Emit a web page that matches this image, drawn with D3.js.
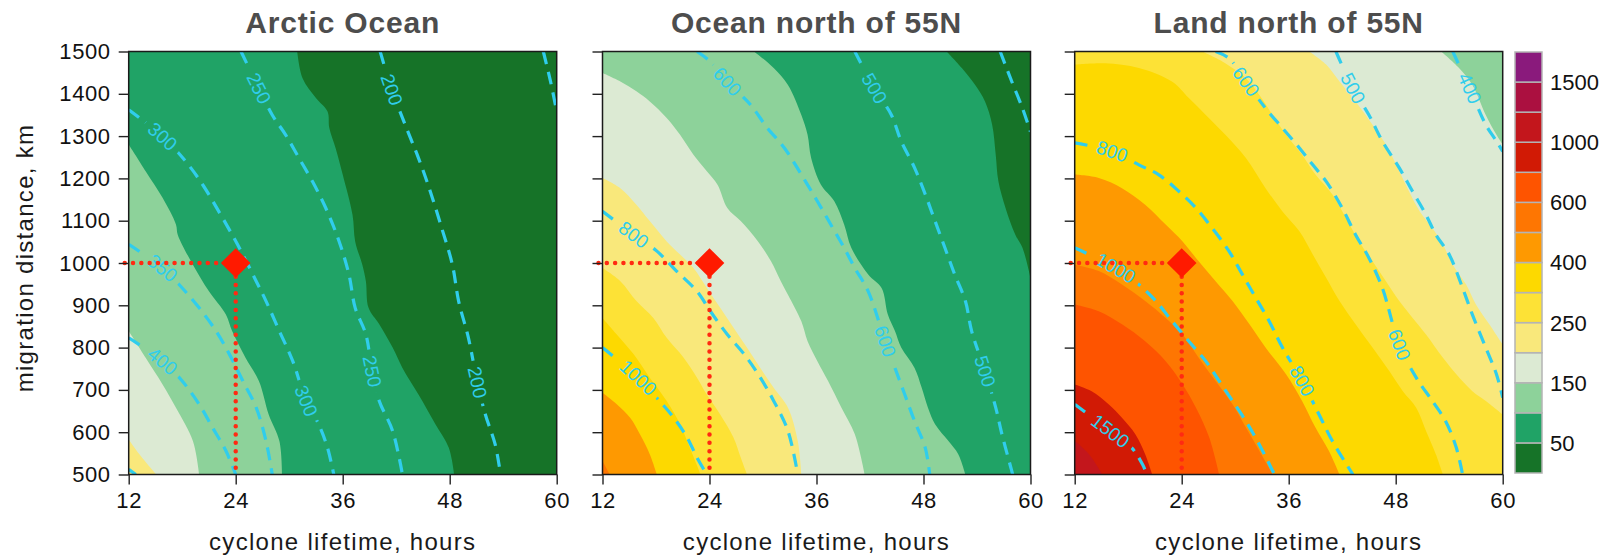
<!DOCTYPE html>
<html>
<head>
<meta charset="utf-8">
<script src="https://cdn.jsdelivr.net/npm/d3@7"></script>
<style>
  body { margin: 0; background: #fff; }
  text { font-family: "Liberation Sans", Arial, Helvetica, sans-serif; }
</style>
</head>
<body>
<svg id="chart"></svg>
<script>
// axis ticks and colour scale
const lifetimeTicks = [12, 24, 36, 48, 60];
const distanceTicks = [500, 600, 700, 800, 900, 1000, 1100, 1200, 1300, 1400, 1500];
const levels = [50, 100, 150, 200, 250, 300, 400, 500, 600, 800, 1000, 1250, 1500];
const levelColors = ["#167328", "#20a366", "#8dd29a", "#dceAd3", "#f9e87b", "#fde236", "#fdd900",
                     "#fe9901", "#fe7602", "#fe5400", "#d11a05", "#c3161c", "#ab1040", "#8a1a7c"];
const levelLabels = [50, 150, 250, 400, 600, 1000, 1500];
const panelTitles = ["Arctic Ocean", "Ocean north of 55N", "Land north of 55N"];
const marker = [24, 1000];

// filled contour boundaries: [lifetime h, distance km], high values lie towards bottom-left
const arcticBands = [
  {level: 50, pts: [[30.9,1500],[31.5,1437],[33.0,1390],[34.3,1358],[34.5,1319],[35.2,1272],[36.0,1209],[37.1,1114],[37.4,1051],[38.2,996],[38.6,957],[38.9,894],[40.1,855],[41.6,800],[42.7,752],[44.5,689],[46.4,619],[47.9,563],[48.5,500]]},
  {level: 100, pts: [[12,1280],[13.9,1217],[15.8,1154],[17.3,1091],[17.5,1067],[19.2,996],[21.0,933],[22.9,878],[23.6,839],[25.1,776],[26.6,721],[27.7,642],[28.9,579],[29.2,500]]},
  {level: 150, pts: [[12,839],[13.9,776],[15.8,713],[17.3,658],[19.2,579],[19.9,500]]},
  {level: 200, pts: [[12,583],[13.2,548],[15.1,500]]}
];
const oceanBands = [
  {level: 50, pts: [[50.6,1500],[52.3,1461],[53.8,1421],[54.9,1382],[55.7,1327],[56.1,1256],[56.4,1193],[57.2,1130],[58.3,1067],[59.1,1036],[60,965]]},
  {level: 100, pts: [[29.0,1500],[31.2,1461],[32.8,1421],[34.3,1350],[35.0,1303],[35.4,1248],[36.5,1185],[38.0,1146],[39.1,1091],[39.9,1036],[41.8,973],[43.3,941],[44.0,878],[44.8,839],[45.5,800],[47.0,752],[47.8,705],[48.5,658],[49.3,619],[50.8,579],[51.9,548],[52.7,500]]},
  {level: 150, pts: [[12,1449],[14.0,1429],[15.8,1406],[17.3,1382],[19.2,1343],[20.7,1303],[22.2,1256],[23.7,1217],[24.9,1185],[26.0,1130],[27.5,1099],[29.4,1052],[30.9,1004],[32.0,957],[32.8,925],[34.3,862],[35.0,815],[36.1,768],[37.3,721],[38.8,658],[40.3,595],[41.4,500]]},
  {level: 200, pts: [[12,1201],[14.0,1177],[15.8,1138],[17.3,1099],[19.2,1051],[20.7,1020],[22.2,988],[23.7,941],[25.2,894],[26.7,847],[28.2,800],[29.7,752],[31.2,705],[32.8,658],[33.9,579],[34.3,500]]},
  {level: 250, pts: [[12,988],[14.0,957],[15.8,910],[17.7,870],[19.2,823],[21.1,776],[22.6,729],[23.7,689],[25.2,642],[26.7,587],[27.5,540],[28.2,500]]},
  {level: 300, pts: [[12,870],[13.6,831],[15.5,784],[17.3,729],[19.2,674],[20.7,619],[21.8,563],[23.0,500]]},
  {level: 400, pts: [[12,693],[13.6,666],[15.1,634],[16.2,595],[17.3,548],[18.1,500]]},
  {level: 500, pts: [[12,532],[12.8,500]]}
];
const landBands = [
  {level: 150, pts: [[53.1,1500],[55.1,1461],[56.6,1421],[58.1,1350],[59.3,1303],[60,1280]]},
  {level: 200, pts: [[38.3,1500],[40.2,1469],[41.7,1429],[43.5,1382],[45.4,1327],[46.9,1280],[48.4,1217],[49.5,1169],[50.7,1122],[52.1,1083],[53.3,1044],[54.4,996],[55.9,949],[57.0,902],[58.5,855],[60,807]]},
  {level: 250, pts: [[26.3,1500],[28.6,1476],[31.2,1437],[32.7,1398],[34.2,1350],[35.7,1303],[37.5,1256],[39.0,1209],[40.9,1162],[42.4,1107],[43.9,1051],[45.4,1004],[46.9,957],[48.4,910],[49.9,870],[51.4,831],[53.3,776],[54.8,737],[56.6,697],[58.1,674],[60,642]]},
  {level: 300, pts: [[12,1469],[15.4,1472],[19.2,1461],[22.9,1429],[24.8,1390],[26.7,1350],[28.9,1303],[31.2,1248],[33.4,1177],[35.3,1122],[37.2,1075],[38.7,1020],[40.2,965],[41.7,910],[43.5,855],[45.4,800],[47.3,744],[48.8,697],[50.3,658],[51.4,603],[52.5,548],[53.3,500]]},
  {level: 400, pts: [[12,1209],[14.7,1201],[17.3,1177],[19.9,1138],[22.2,1091],[24.1,1051],[25.9,1004],[27.8,957],[29.7,910],[31.6,855],[33.4,800],[35.7,737],[37.5,674],[39.0,611],[40.5,556],[41.7,500]]},
  {level: 500, pts: [[12,996],[14.7,981],[17.3,949],[19.9,910],[22.2,870],[24.1,831],[25.9,776],[27.8,721],[29.7,666],[31.2,611],[32.7,556],[34.2,500]]},
  {level: 600, pts: [[12,902],[14.7,886],[17.3,855],[19.9,815],[22.2,768],[24.1,713],[25.6,658],[27.1,587],[28.2,500]]},
  {level: 800, pts: [[12,713],[13.9,697],[15.8,666],[17.3,634],[18.8,595],[19.9,548],[20.7,500]]},
  {level: 1000, pts: [[12,579],[13.6,548],[15.1,500]]}
];

// dashed contour lines; "at" = indices of the labelled points
const arcticLines = [
  {level: 150, pts: [[58.5,1500],[59.3,1430],[60,1358]], at: []},
  {level: 200, pts: [[40.2,1500],[41.5,1410],[43.0,1327],[44.5,1248],[45.7,1177],[47.1,1083],[48.3,996],[49.0,910],[50.1,823],[51.1,718],[52.0,642],[53.1,571],[53.7,500]], at: [1, 9]},
  {level: 250, pts: [[24.6,1500],[26.6,1413],[28.1,1350],[29.6,1303],[31.1,1248],[32.6,1193],[34.1,1130],[35.6,1051],[36.7,973],[37.4,894],[38.6,831],[39.3,744],[40.1,674],[41.6,603],[42.7,500]], at: [1, 11]},
  {level: 300, pts: [[12,1362],[15.8,1299],[18.4,1240],[20.3,1185],[22.1,1122],[23.6,1067],[24.8,1020],[26.3,957],[27.4,910],[28.9,839],[30.4,768],[31.9,674],[33.3,619],[34.3,563],[35.0,500]], at: [1, 11]},
  {level: 350, pts: [[12,1044],[15.8,988],[18.0,941],[19.9,894],[21.8,839],[23.3,784],[24.8,721],[26.3,658],[27.4,579],[28.1,500]], at: [1]},
  {level: 400, pts: [[12,823],[15.8,768],[18.0,721],[19.9,666],[21.4,611],[22.9,556],[24.0,500]], at: [1]},
  {level: 450, pts: [[12,512],[12.8,500]], at: []}
];
const oceanLines = [
  {level: 400, pts: [[56.6,1500],[57.9,1429],[59.1,1366],[60,1310]], at: []},
  {level: 500, pts: [[40.3,1500],[42.5,1413],[44.4,1350],[45.5,1288],[47.0,1225],[48.2,1162],[49.3,1099],[50.4,1036],[51.5,973],[52.7,910],[53.4,839],[54.9,744],[56.1,658],[56.8,595],[57.8,516],[58.0,500]], at: [1, 11]},
  {level: 600, pts: [[22.6,1500],[24.1,1476],[26.0,1429],[28.6,1374],[30.5,1319],[32.4,1272],[34.3,1209],[36.1,1146],[37.6,1091],[39.1,1036],[40.3,988],[41.8,933],[43.7,815],[44.8,752],[45.9,689],[47.0,626],[48.2,563],[48.7,500]], at: [2, 12]},
  {level: 800, pts: [[12,1122],[15.5,1067],[18.1,1028],[20.3,981],[22.6,933],[24.1,886],[26.0,831],[27.9,784],[29.7,729],[31.2,674],[32.8,603],[33.9,500]], at: [1]},
  {level: 1000, pts: [[12,800],[16.0,729],[18.1,681],[20.0,634],[21.5,587],[22.6,540],[23.7,500]], at: [1]}
];
const landLines = [
  {level: 400, pts: [[54.4,1500],[56.3,1413],[58.1,1327],[59.3,1288],[60,1264]], at: [1]},
  {level: 500, pts: [[41.3,1500],[43.2,1413],[45.0,1350],[46.5,1288],[48.4,1225],[49.9,1169],[51.4,1114],[52.5,1067],[54.0,1020],[55.5,941],[56.6,878],[58.1,800],[59.3,737],[60,682]], at: [1]},
  {level: 600, pts: [[27.8,1500],[29.3,1484],[31.2,1429],[33.4,1366],[35.3,1319],[37.2,1272],[38.7,1232],[40.2,1193],[42.0,1130],[43.5,1067],[45.0,1012],[46.5,941],[48.4,807],[50.3,729],[52.1,674],[53.6,626],[54.8,563],[55.5,500]], at: [2, 12]},
  {level: 800, pts: [[12,1284],[16.2,1264],[19.2,1232],[21.4,1209],[23.7,1169],[25.6,1130],[27.4,1083],[29.3,1028],[30.8,973],[32.3,918],[33.8,863],[35.3,800],[37.5,721],[39.4,642],[40.9,579],[43.2,500]], at: [1, 12]},
  {level: 1000, pts: [[12,1036],[16.6,988],[19.2,949],[21.1,910],[22.9,863],[24.8,815],[26.7,768],[28.2,721],[29.7,674],[31.2,626],[32.7,571],[34.4,500]], at: [1]},
  {level: 1500, pts: [[12,666],[16.0,603],[18.4,563],[19.6,524],[20.1,500]], at: [1]}
];

(() => {
  const width = 1614, height = 557;
  const panelLeft = [128.7, 602.5, 1074.7];
  const top = 51.5, W = 428, H = 423;
  const cyan = "#30cdec";

  const svg = d3.select("#chart").attr("width", width).attr("height", height);
  const defs = svg.append("defs");

  const panels = [
    {title: panelTitles[0], bands: arcticBands, lines: arcticLines},
    {title: panelTitles[1], bands: oceanBands, lines: oceanLines},
    {title: panelTitles[2], bands: landBands, lines: landLines}
  ];

  const x = d3.scaleLinear().domain([12, 60]).range([0, W]);
  const y = d3.scaleLinear().domain([500, 1500]).range([H, 0]);
  const curve = d3.line().x(d => x(d[0])).y(d => y(d[1])).curve(d3.curveCatmullRom.alpha(0.5));

  panels.forEach((p, i) => {
    const g = svg.append("g").attr("transform", `translate(${panelLeft[i]},${top})`);

    defs.append("clipPath").attr("id", "clip" + i)
      .append("rect").attr("width", W).attr("height", H);

    const plot = g.append("g").attr("clip-path", `url(#clip${i})`);

    // lowest band fills the whole panel, then each level on top
    plot.append("rect")
      .attr("width", W).attr("height", H)
      .attr("fill", levelColors[levels.indexOf(p.bands[0].level)]);

    plot.selectAll("path.band")
      .data(p.bands)
      .join("path")
      .attr("class", "band")
      .attr("fill", d => levelColors[levels.indexOf(d.level) + 1])
      .attr("d", d => {
        const s = d.pts[0], e = d.pts[d.pts.length - 1];
        const corners = [];
        if (e[0] === 60) corners.push([60, 500]);
        corners.push([12, 500]);
        if (s[1] === 1500) corners.push([12, 1500]);
        return curve(d.pts) + corners.map(c => `L${x(c[0])},${y(c[1])}`).join("") + "Z";
      });

    // label positions along the dashed lines
    const labels = p.lines.flatMap(l => l.at.map(k => {
      const a = l.pts[Math.max(k - 1, 0)], b = l.pts[Math.min(k + 1, l.pts.length - 1)];
      let ang = Math.atan2(y(b[1]) - y(a[1]), x(b[0]) - x(a[0])) * 180 / Math.PI;
      if (ang > 90) ang -= 180;
      if (ang < -90) ang += 180;
      return {text: String(l.level), px: x(l.pts[k][0]), py: y(l.pts[k][1]), ang};
    }));

    const mask = defs.append("mask").attr("id", "mask" + i)
      .attr("maskUnits", "userSpaceOnUse")
      .attr("x", -20).attr("y", -20).attr("width", W + 40).attr("height", H + 40);
    mask.append("rect").attr("x", -20).attr("y", -20)
      .attr("width", W + 40).attr("height", H + 40).attr("fill", "white");
    mask.selectAll("rect.gap")
      .data(labels)
      .join("rect")
      .attr("class", "gap")
      .attr("x", d => -(d.text.length * 10.6 + 12) / 2)
      .attr("y", -9)
      .attr("width", d => d.text.length * 10.6 + 12)
      .attr("height", 18)
      .attr("transform", d => `translate(${d.px},${d.py}) rotate(${d.ang})`)
      .attr("fill", "black");

    plot.append("g")
      .attr("mask", `url(#mask${i})`)
      .selectAll("path")
      .data(p.lines)
      .join("path")
      .attr("d", d => curve(d.pts))
      .attr("fill", "none")
      .attr("stroke", cyan)
      .attr("stroke-width", 3.2)
      .attr("stroke-dasharray", "13 8");

    plot.selectAll("text.clab")
      .data(labels)
      .join("text")
      .attr("class", "clab")
      .attr("transform", d => `translate(${d.px},${d.py}) rotate(${d.ang})`)
      .attr("text-anchor", "middle")
      .attr("dy", "0.35em")
      .attr("font-size", 19)
      .attr("fill", cyan)
      .text(d => d.text);

    // marker with dotted guides
    const mx = x(marker[0]), my = y(marker[1]);
    g.append("path")
      .attr("d", `M${x(12) - 4},${my}H${mx}V${y(500)}`)
      .attr("fill", "none")
      .attr("stroke", "#ff2a12")
      .attr("stroke-width", 4.5)
      .attr("stroke-linecap", "round")
      .attr("stroke-dasharray", "0.01 8.3");
    g.append("path")
      .attr("d", d3.symbol(d3.symbolSquare, 440)())
      .attr("transform", `translate(${mx},${my}) rotate(45)`)
      .attr("fill", "#ff1a00");

    g.append("rect")
      .attr("width", W).attr("height", H)
      .attr("fill", "none")
      .attr("stroke", "#1a1a1a")
      .attr("stroke-width", 1.5);

    // axes
    const xAxis = g.append("g")
      .attr("transform", `translate(0,${H})`)
      .call(d3.axisBottom(x).tickValues(lifetimeTicks).tickSize(10).tickPadding(8));
    const yAxis = g.append("g")
      .call(d3.axisLeft(y).tickValues(distanceTicks).tickSize(10).tickPadding(8)
        .tickFormat(i === 0 ? d3.format("d") : () => ""));
    [xAxis, yAxis].forEach(a => {
      a.select(".domain").remove();
      a.attr("font-size", 22).attr("font-family", null);
      a.selectAll("line").attr("stroke", "#222").attr("stroke-width", 1.4);
      a.selectAll("text").attr("fill", "#111").attr("letter-spacing", "0.6px");
    });

    g.append("text")
      .attr("x", W / 2).attr("y", 550 - top)
      .attr("text-anchor", "middle")
      .attr("font-size", 24)
      .attr("letter-spacing", "1.3px")
      .attr("fill", "#1a1a1a")
      .text("cyclone lifetime, hours");

    g.append("text")
      .attr("x", W / 2).attr("y", 33 - top)
      .attr("text-anchor", "middle")
      .attr("font-size", 30)
      .attr("font-weight", "bold")
      .attr("letter-spacing", "0.8px")
      .attr("fill", "#4d4d4d")
      .text(p.title);
  });

  svg.append("text")
    .attr("transform", "translate(33,258) rotate(-90)")
    .attr("text-anchor", "middle")
    .attr("font-size", 24)
    .attr("letter-spacing", "1.3px")
    .attr("fill", "#1a1a1a")
    .text("migration distance, km");

  // colour bar
  const cb = svg.append("g");
  const cy = d3.scaleLinear().domain([0, levelColors.length]).range([473, 52]);
  cb.selectAll("rect")
    .data(levelColors)
    .join("rect")
    .attr("x", 1515)
    .attr("y", (d, i) => cy(i + 1))
    .attr("width", 27)
    .attr("height", (d, i) => cy(i) - cy(i + 1))
    .attr("fill", d => d)
    .attr("stroke", "#b4b4b4")
    .attr("stroke-width", 1.5);
  cb.selectAll("text")
    .data(levelLabels)
    .join("text")
    .attr("x", 1550)
    .attr("y", d => cy(levels.indexOf(d) + 1))
    .attr("dy", "0.36em")
    .attr("font-size", 22)
    .attr("fill", "#111")
    .text(d => d);
})();
</script>
</body>
</html>
